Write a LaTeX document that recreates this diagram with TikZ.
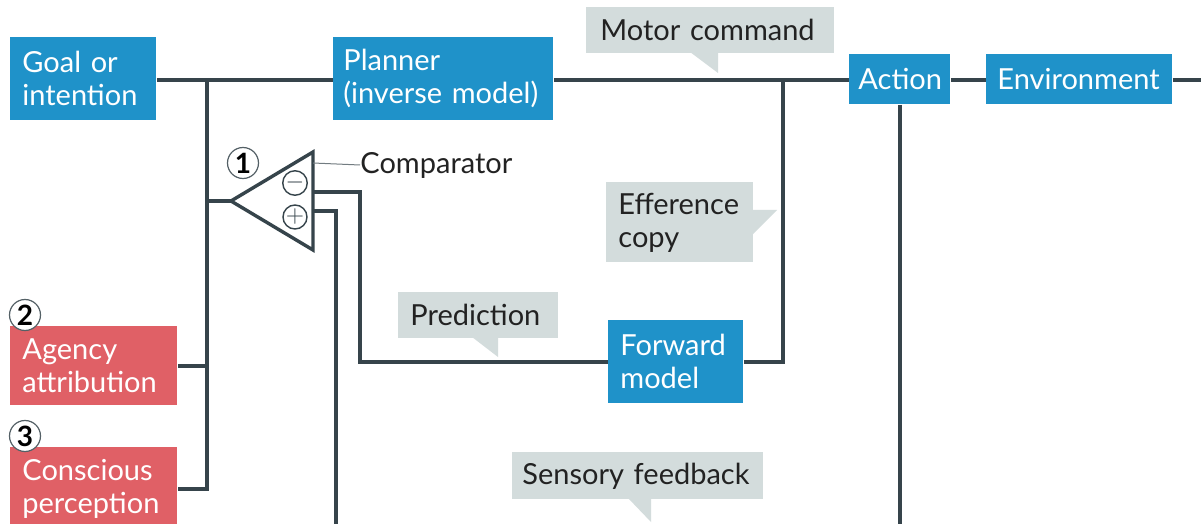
\documentclass[tikz,border=0pt]{standalone}
\usepackage{fontspec}
\setmainfont{Lato}
\definecolor{bblue}{HTML}{1F92C9}
\definecolor{bred}{HTML}{E06066}
\definecolor{cgray}{HTML}{D3DCDC}
\definecolor{lcol}{HTML}{36444B}
\definecolor{tcol}{HTML}{222222}
\begin{document}
\begin{tikzpicture}[x=0.5pt,y=-0.5pt,
  font=\fontsize{14.5}{16.5}\selectfont,
  blk/.style={fill=#1, text=white, anchor=north west, align=left, inner ysep=0pt, inner xsep=6pt},
  call/.style={fill=cgray, text=tcol, anchor=north west, align=left, inner ysep=0pt, inner xsep=6pt},
  conn/.style={draw=lcol, line width=1.7pt},
  thin/.style={draw=lcol!70, line width=0.5pt},
  num/.style={circle, draw=lcol!85, fill=white, line width=0.6pt, inner sep=0pt, minimum size=15.5pt, font=\fontsize{14}{14}\selectfont\bfseries, text=black},
  sgn/.style={circle, draw=lcol, fill=white, line width=0.7pt, inner sep=0pt, minimum size=11.5pt, font=\fontsize{12}{12}\selectfont, text=lcol}]
\clip (0,0) rectangle (1201,524);
\fill[white] (0,0) rectangle (1201,524);
% blue boxes
\node[blk=bblue, text width=61pt, minimum height=41.5pt] (goal) at (10,37) {Goal or\\intention};
\node[blk=bblue, text width=100pt, inner xsep=5pt, minimum height=41.5pt] (plan) at (333,37) {Planner\\(inverse model)};
\node[blk=bblue, text width=41.5pt, inner xsep=4.5pt, minimum height=25pt] (act) at (849,54) {Action};
\node[blk=bblue, text width=82pt, inner xsep=5.5pt, minimum height=25pt] (env) at (986,54) {Environment};
\node[blk=bblue, text width=55.5pt, minimum height=41.5pt] (fwd) at (608,320) {Forward\\model};
% red boxes
\node[blk=bred, text width=71.5pt, minimum height=39.5pt] (agency) at (10,326) {Agency\\attribution};
\node[blk=bred, text width=71.5pt, minimum height=41.5pt] (cons) at (10,447) {Conscious\\perception};
% callouts
\node[call, text width=110pt, minimum height=23pt, inner xsep=7pt] (motor) at (586,7) {\mbox{Motor command}};
\fill[cgray] (690,52) -- (718,73) -- (718,52) -- cycle;
\node[call, text width=61.5pt, minimum height=40pt] (eff) at (606,182) {Efference\\copy};
\fill[cgray] (752,210) -- (777,210) -- (752,235) -- cycle;
\node[call, text width=68pt, minimum height=23pt] (pred) at (398,292) {\mbox{Prediction}};
\fill[cgray] (472,337) -- (498,337) -- (498,357) -- cycle;
\node[call, text width=115.5pt, inner xsep=5pt, minimum height=23.5pt] (sens) at (512,452) {\mbox{Sensory feedback}};
\fill[cgray] (628,498) -- (651,522) -- (651,498) -- cycle;
% junctions
\coordinate (j1) at (207,80);
\coordinate (j2) at (783,80);
\coordinate (rend) at (1201,80);
% comparator
\coordinate (apex) at (231,201);
\coordinate (ctop) at (313,152);
\coordinate (cbot) at (313,250);
\coordinate (mout) at (313,192);
\coordinate (pout) at (313,211);
\coordinate (bot) at (0,530);
\draw[conn, line join=miter] (apex) -- (ctop) -- (cbot) -- cycle;
\node[sgn] (minus) at (295,183) {$-$};
\node[sgn] (plus) at (295,217) {$+$};
\node[num] (n1) at (243,163) {1};
\node[num] (n2) at (25,315) {2};
\node[num] (n3) at (25,436) {3};
\node[anchor=west, inner sep=0pt, text=tcol] (cmplab) at (360,165) {Comparator};
\draw[thin] (313,163) -- (cmplab.west);
% connectors
\draw[conn] (goal.east |- j1) -- (plan.west |- j1);
\draw[conn] (plan.east |- j1) -- (act.west |- j1);
\draw[conn] (act.east |- j1) -- (env.west |- j1);
\draw[conn] (env.east |- j1) -- (rend);
\draw[conn] (j1) |- (cons.east);
\draw[conn] (agency.east) -- (agency.east -| j1);
\draw[conn] (apex -| j1) -- (apex);
\draw[conn] (mout) -- ++(47,0) |- (fwd.west);
\draw[conn] (pout) -- ++(23,0) -- ++(0,330);
\draw[conn] (fwd.east) -| (j2);
\draw[conn] (act.south) -- (act.south |- bot);
\end{tikzpicture}
\end{document}
